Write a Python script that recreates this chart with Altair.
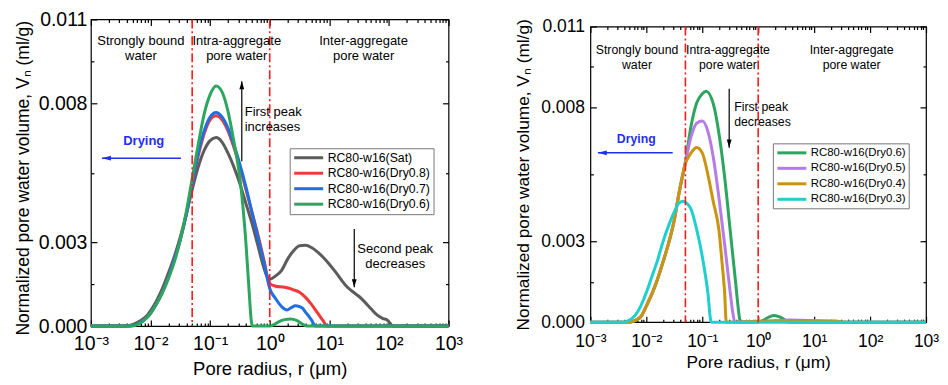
import altair as alt
import pandas as pd

FONT = "Liberation Sans"

# ---------------- Left panel: Sat -> Dry0.6 (x stored as log10 of pore radius in um) ----------------
left_names = ["RC80-w16(Sat)", "RC80-w16(Dry0.8)", "RC80-w16(Dry0.7)", "RC80-w16(Dry0.6)"]
left_colors = ["#5c5c5c", "#ee3a3a", "#1f6fe0", "#2ca55e"]

sat_e = [-3.0, -2.4, -2.35, -2.25, -2.15, -2.05, -2.0, -1.9, -1.8, -1.7, -1.6, -1.5, -1.4, -1.3, -1.2, -1.1,
         -1.0, -0.9, -0.8, -0.7, -0.6, -0.5, -0.4, -0.3, -0.2, -0.1, -0.05, 0.0, 0.1, 0.2, 0.3, 0.4, 0.5,
         0.6, 0.7, 0.8, 0.9, 1.0, 1.1, 1.2, 1.3, 1.4, 1.5, 1.6, 1.7, 1.8, 1.9, 1.97, 2.02, 2.06, 3.0]
sat_v = [0, 0, 0.00002, 0.0001, 0.00022, 0.0004, 0.00055, 0.0009, 0.00135, 0.0019, 0.0025, 0.0032, 0.0040,
         0.0049, 0.0057, 0.0063, 0.00665, 0.00676, 0.0066, 0.0062, 0.0057, 0.0051, 0.0044, 0.0037, 0.0029,
         0.0021, 0.0018, 0.00168, 0.0018, 0.0020, 0.0024, 0.0027, 0.00288, 0.0029, 0.00282, 0.00266,
         0.00246, 0.00222, 0.00195, 0.00166, 0.0014, 0.00122, 0.00106, 0.00085, 0.00062, 0.0004, 0.00027,
         0.00022, 0.0001, 0, 0]

d08_e = [-3.0, -2.35, -2.25, -2.15, -2.05, -2.0, -1.9, -1.8, -1.7, -1.6, -1.5, -1.4, -1.3, -1.2, -1.1, -1.0,
         -0.9, -0.8, -0.7, -0.6, -0.5, -0.4, -0.3, -0.2, -0.1, 0.0, 0.1, 0.25, 0.4, 0.5, 0.6, 0.7, 0.8, 0.9,
         0.96, 3.0]
d08_v = [0, 0, 0.00005, 0.00015, 0.00033, 0.00046, 0.0008, 0.00122, 0.00175, 0.0024, 0.0031, 0.0040, 0.0051,
         0.0061, 0.0069, 0.0074, 0.00754, 0.0074, 0.007, 0.0064, 0.0057, 0.0049, 0.0041, 0.0033, 0.0024,
         0.00152, 0.00143, 0.00139, 0.0013, 0.00121, 0.00103, 0.00078, 0.00048, 0.00018, 0, 0]

d07_e = [-3.0, -2.35, -2.25, -2.15, -2.05, -2.0, -1.9, -1.8, -1.7, -1.6, -1.5, -1.4, -1.3, -1.2, -1.1, -1.0,
         -0.9, -0.8, -0.7, -0.6, -0.5, -0.4, -0.3, -0.2, -0.1, 0.0, 0.1, 0.2, 0.29, 0.36, 0.43, 0.5, 0.55,
         0.6, 0.65, 0.7, 0.77, 3.0]
d07_v = [0, 0, 0.00005, 0.00015, 0.00033, 0.00046, 0.0008, 0.00122, 0.00175, 0.0024, 0.0031, 0.0040, 0.0051,
         0.0062, 0.007, 0.0075, 0.00766, 0.0075, 0.0071, 0.0065, 0.0058, 0.005, 0.0041, 0.0032, 0.0023,
         0.00135, 0.00098, 0.0007, 0.00058, 0.00066, 0.00073, 0.0007, 0.00064, 0.0005, 0.00037, 0.00022, 0, 0]

d06L_e = [-3.0, -2.3, -2.2, -2.1, -2.0, -1.9, -1.8, -1.7, -1.6, -1.5, -1.4, -1.3, -1.2, -1.1, -1.0, -0.9,
          -0.8, -0.7, -0.6, -0.5, -0.45, -0.4, -0.35, -0.31, -0.29, 0.0, 0.08, 0.15, 0.25, 0.35, 0.45, 0.54,
          0.62, 3.0]
d06L_v = [0, 0, 0.00008, 0.00022, 0.00045, 0.0008, 0.0012, 0.0017, 0.0023, 0.0031, 0.0041, 0.0053, 0.0065,
          0.0076, 0.0083, 0.00861, 0.0084, 0.0077, 0.0066, 0.0053, 0.0043, 0.003, 0.0014, 0.0002, 0, 0,
          0.00006, 0.00015, 0.00023, 0.00025, 0.0002, 0.00008, 0, 0]

# ---------------- Right panel: Dry0.6 -> Dry0.3 ----------------
right_names = ["RC80-w16(Dry0.6)", "RC80-w16(Dry0.5)", "RC80-w16(Dry0.4)", "RC80-w16(Dry0.3)"]
right_colors = ["#2ca55e", "#b57ce6", "#c9950e", "#1fcfcf"]

d06R_e = [-3.0, -2.3, -2.25, -2.1, -2.0, -1.9, -1.8, -1.7, -1.6, -1.5, -1.42, -1.31, -1.2, -1.1, -1.0, -0.93,
          -0.8, -0.7, -0.6, -0.5, -0.4, -0.35, -0.32, 0.0, 0.1, 0.2, 0.29, 0.4, 0.5, 0.55, 3.0]
d06R_v = [0, 0, 0.00002, 0.0002, 0.0006, 0.00105, 0.0016, 0.00225, 0.00295, 0.0038, 0.00475, 0.00585, 0.0073,
          0.00815, 0.0085, 0.00859, 0.0081, 0.007, 0.0054, 0.0034, 0.0014, 0.0004, 0, 0, 0.00008, 0.0002,
          0.00025, 0.00018, 0.00006, 0, 0]

d05_e = [-3.0, -2.3, -2.25, -2.1, -2.0, -1.9, -1.8, -1.7, -1.6, -1.5, -1.42, -1.31, -1.2, -1.1, -1.0, -0.9,
         -0.8, -0.7, -0.6, -0.5, -0.45, -0.42, 0.3, 0.55, 0.95, 1.0, 3.0]
d05_v = [0, 0, 0.00002, 0.0002, 0.0006, 0.00105, 0.0016, 0.00225, 0.00295, 0.0038, 0.00475, 0.00585, 0.0069,
         0.0074, 0.00748, 0.0071, 0.0061, 0.0046, 0.0029, 0.0011, 0.0003, 0, 0.00005, 0.00008, 0.00006, 0, 0]

d04_e = [-3.0, -2.3, -2.25, -2.1, -2.0, -1.9, -1.8, -1.7, -1.6, -1.5, -1.42, -1.31, -1.2, -1.1, -1.0, -0.9,
         -0.8, -0.7, -0.65, -0.6, -0.57, 0.3, 0.9, 1.4, 1.5, 3.0]
d04_v = [0, 0, 0.00002, 0.0002, 0.0006, 0.00105, 0.0016, 0.00225, 0.00295, 0.0038, 0.00475, 0.00585, 0.0063,
         0.0065, 0.0063, 0.0055, 0.00445, 0.0034, 0.0023, 0.0011, 0, 0.00004, 0.00006, 0.00004, 0, 0]

d03_e = [-3.0, -2.4, -2.35, -2.2, -2.1, -2.0, -1.9, -1.8, -1.7, -1.6, -1.5, -1.42, -1.35, -1.28, -1.2, -1.1,
         -1.0, -0.9, -0.84, 3.0]
d03_v = [0, 0, 0.00003, 0.00025, 0.0006, 0.0011, 0.0017, 0.0023, 0.003, 0.0036, 0.0041, 0.00442, 0.0045,
         0.00443, 0.0042, 0.00345, 0.00245, 0.0011, 0, 0]

# region boundaries (um)
boundary_r = [0.05, 1.0]

# ---------------- annotations ----------------
L_center_text = ["Strongly bound", "water", "Intra-aggregate", "pore water", "Inter-aggregate", "pore water",
                 "Second peak", "decreases"]
L_center_r = [0.00689, 0.00689, 0.28, 0.28, 37.6, 37.6, 127.6, 127.6]
L_center_v = [0.01021, 0.00967, 0.01021, 0.00967, 0.01021, 0.00967, 0.00276, 0.00222]
L_left_text = ["First peak", "increases"]
L_left_r = [0.381, 0.381]
L_left_v = [0.00768, 0.00714]
L_dry = ("Drying", 0.0077, 0.00663)
L_harrow = (0.0324, 0.00153, 0.00602)          # from r, to r (tip), at v
L_varrows = [(0.34, 0.00591, 0.00878), (26.2, 0.00348, 0.00139)]  # r, from v, to v (tip)

R_center_text = ["Strongly bound", "water", "Intra-aggregate", "pore water", "Inter-aggregate", "pore water"]
R_center_r = [0.00682, 0.00682, 0.288, 0.288, 46.8, 46.8]
R_center_v = [0.01011, 0.00955, 0.01011, 0.00955, 0.01011, 0.00955]
R_left_text = ["First peak", "decreases"]
R_left_r = [0.372, 0.372]
R_left_v = [0.00801, 0.00746]
R_dry = ("Drying", 0.0066, 0.0068)
R_harrow = (0.0296, 0.00136, 0.0063)
R_varrows = [(0.303, 0.00868, 0.00649)]

# ---------------- axis helpers ----------------
DEC = [10.0 ** e for e in range(-3, 4)]
XTICKS = sorted(DEC + [k * 10.0 ** e for e in range(-3, 3) for k in range(2, 10)])
SUP = {-3: "⁻³", -2: "⁻²", -1: "⁻¹", 0: "⁰", 1: "¹", 2: "²", 3: "³"}
XLABEL = " : ".join(f"datum.value == {10.0 ** e!r} ? '10{SUP[e]}'" for e in range(-3, 4)) + " : ''"
XMAJ_TEST = "indexof([" + ",".join(repr(v) for v in DEC) + "], datum.value) >= 0"
YTICKS = [0, 0.0015, 0.003, 0.0055, 0.008, 0.0095, 0.011]
YMAJ_TEST = "indexof([0,0.003,0.008,0.011], datum.value) >= 0"
YLABEL = YMAJ_TEST + " ? format(datum.value, '.3f') : ''"
XCOND = {"condition": {"test": XMAJ_TEST, "value": 6}, "value": 3}
YCOND = {"condition": {"test": YMAJ_TEST, "value": 6}, "value": 3}


def series_frame(names, exps, vals):
    rows = []
    for n, es, vs in zip(names, exps, vals):
        for e, v in zip(es, vs):
            rows.append({"series": n, "r": 10.0 ** e, "v": v})
    return pd.DataFrame(rows)


def tick_axis(orient, offset, values, cond):
    return alt.Axis(orient=orient, offset=offset, values=values, labels=False, domain=False, grid=False,
                    title=None, ticks=True, tickSize=cond, tickColor="black", tickWidth=1.2)


def panel(df, names, colors, W, H, fs, leg_xy, ctext, ltext, dry, harrow, varrows, title=None):
    xs = alt.Scale(type="log", domain=[0.001, 1000], nice=False)
    ys = alt.Scale(domain=[0, 0.011], nice=False, zero=False)

    x_main = alt.Axis(orient="bottom", values=DEC, labelExpr=XLABEL, ticks=False, domain=False, grid=False,
                      labelFont=FONT, labelFontSize=fs["tick"], labelColor="black", labelPadding=fs["xlp"],
                      labelFlush=False, labelOverlap=False,
                      title="Pore radius, r (μm)", titleFont=FONT, titleFontSize=fs["title"],
                      titleFontWeight="normal", titleColor="black", titlePadding=fs["xtp"])
    y_main = alt.Axis(orient="left", values=YTICKS, labelExpr=YLABEL, ticks=False, domain=False, grid=False,
                      labelFont=FONT, labelFontSize=fs["tick"], labelColor="black", labelPadding=fs["ylp"],
                      labelOverlap=False,
                      title="Normalized pore water volume, Vₙ (ml/g)", titleFont=FONT,
                      titleFontSize=fs["ytitle"], titleFontWeight="normal", titleColor="black",
                      titlePadding=fs["ytp"], titleY=H / 2 + fs["tshift"])

    lines = alt.Chart(df).mark_line(strokeWidth=3, interpolate="monotone").encode(
        x=alt.X("r:Q", scale=xs, axis=x_main),
        y=alt.Y("v:Q", scale=ys, axis=y_main),
        color=alt.Color("series:N", scale=alt.Scale(domain=names, range=colors),
                        legend=alt.Legend(title=None, orient="none", legendX=leg_xy[0], legendY=leg_xy[1],
                                          symbolType="M-1,0H4.8", symbolSize=100, symbolStrokeWidth=3,
                                          labelFont=FONT, labelFontSize=fs["leg"], labelColor="black",
                                          labelOffset=22, rowPadding=2.5, padding=3,
                                          strokeColor="#777777", fillColor="white", labelLimit=0)),
    )

    vlines = alt.Chart(pd.DataFrame({"r": boundary_r})).mark_rule(
        color="#ff1a1a", strokeWidth=1.6, strokeDash=[9, 3, 2, 3]
    ).encode(x=alt.X("r:Q", scale=xs, axis=tick_axis("top", -H, XTICKS, XCOND)))

    ctxt = alt.Chart(pd.DataFrame(ctext)).mark_text(
        align="center", baseline="middle", font=FONT, fontSize=fs["ann"], color="black"
    ).encode(
        x=alt.X("r:Q", scale=xs, axis=tick_axis("bottom", -H, XTICKS, XCOND)),
        y=alt.Y("v:Q", scale=ys, axis=tick_axis("left", -W, YTICKS, YCOND)),
        text="t:N",
    )
    ltxt = alt.Chart(pd.DataFrame(ltext)).mark_text(
        align="left", baseline="middle", font=FONT, fontSize=fs["ann"], color="black"
    ).encode(
        x=alt.X("r:Q", scale=xs, axis=None),
        y=alt.Y("v:Q", scale=ys, axis=tick_axis("right", -W, YTICKS, YCOND)),
        text="t:N",
    )
    drytxt = alt.Chart(pd.DataFrame({"t": [dry[0]], "r": [dry[1]], "v": [dry[2]]})).mark_text(
        align="center", baseline="middle", font=FONT, fontSize=fs["ann"], fontWeight="bold", color="#1f2ff0"
    ).encode(x=alt.X("r:Q", scale=xs, axis=None), y=alt.Y("v:Q", scale=ys, axis=None), text="t:N")

    hdf = pd.DataFrame({"r1": [harrow[0]], "r2": [harrow[1]], "v": [harrow[2]]})
    hrule = alt.Chart(hdf).mark_rule(color="#1f2ff0", strokeWidth=1.5).encode(
        x=alt.X("r1:Q", scale=xs, axis=None), x2="r2:Q", y=alt.Y("v:Q", scale=ys, axis=None))
    hhead = alt.Chart(hdf).mark_point(shape="M0,0L3,-0.8L3,0.8Z", size=36, filled=True, opacity=1,
                                      color="#1f2ff0").encode(
        x=alt.X("r2:Q", scale=xs, axis=None), y=alt.Y("v:Q", scale=ys, axis=None))

    vdf = pd.DataFrame({"r": [a[0] for a in varrows], "v1": [a[1] for a in varrows],
                        "v2": [a[2] for a in varrows],
                        "up": [a[2] > a[1] for a in varrows]})
    vrule = alt.Chart(vdf).mark_rule(color="black", strokeWidth=1.2).encode(
        x=alt.X("r:Q", scale=xs, axis=None), y=alt.Y("v1:Q", scale=ys, axis=None), y2="v2:Q")
    layers = [lines, vlines, ctxt, ltxt, drytxt, hrule, hhead, vrule]
    up_df = vdf[vdf["up"]]
    dn_df = vdf[~vdf["up"]]
    if len(up_df):
        layers.append(alt.Chart(up_df).mark_point(shape="M0,0L-0.8,2.7L0.8,2.7Z", size=36, filled=True,
                                                  opacity=1, color="black").encode(
            x=alt.X("r:Q", scale=xs, axis=None), y=alt.Y("v2:Q", scale=ys, axis=None)))
    if len(dn_df):
        layers.append(alt.Chart(dn_df).mark_point(shape="M0,0L-0.8,-2.7L0.8,-2.7Z", size=36, filled=True,
                                                  opacity=1, color="black").encode(
            x=alt.X("r:Q", scale=xs, axis=None), y=alt.Y("v2:Q", scale=ys, axis=None)))

    ch = alt.layer(*layers).resolve_axis(x="independent", y="independent")
    if title is not None:
        return ch.properties(width=W, height=H, title=title)
    return ch.properties(width=W, height=H)


left_df = series_frame(left_names, [sat_e, d08_e, d07_e, d06L_e], [sat_v, d08_v, d07_v, d06L_v])
right_df = series_frame(right_names, [d06R_e, d05_e, d04_e, d03_e], [d06R_v, d05_v, d04_v, d03_v])

fsL = {"tick": 19.5, "title": 18.5, "ytitle": 17.5, "ann": 13, "leg": 12.3, "xlp": 8, "xtp": 7, "ylp": 4,
       "ytp": 6, "tshift": 5}
fsR = {"tick": 17.5, "title": 17.3, "ytitle": 17.3, "ann": 12.3, "leg": 11.4, "xlp": 10, "xtp": 4, "ylp": 6,
       "ytp": 8, "tshift": 0}

left = panel(left_df, left_names, left_colors, 358, 307, fsL, (199, 129),
             {"t": L_center_text, "r": L_center_r, "v": L_center_v},
             {"t": L_left_text, "r": L_left_r, "v": L_left_v},
             L_dry, L_harrow, L_varrows)
right = panel(right_df, right_names, right_colors, 336, 296, fsR, (182.7, 117),
              {"t": R_center_text, "r": R_center_r, "v": R_center_v},
              {"t": R_left_text, "r": R_left_r, "v": R_left_v},
              R_dry, R_harrow, R_varrows,
              title=alt.TitleParams(" ", fontSize=1, offset=7))

chart = alt.hconcat(left, right, spacing=50, center=True).resolve_scale(
    color="independent"
).resolve_legend(
    color="independent"
).configure_view(
    stroke="black", strokeWidth=1.2
).properties(
    padding={"left": 5, "top": 0, "right": 0, "bottom": 0}, background="white"
)

chart.save("out.html", embed_options={"renderer": "svg", "actions": False})
